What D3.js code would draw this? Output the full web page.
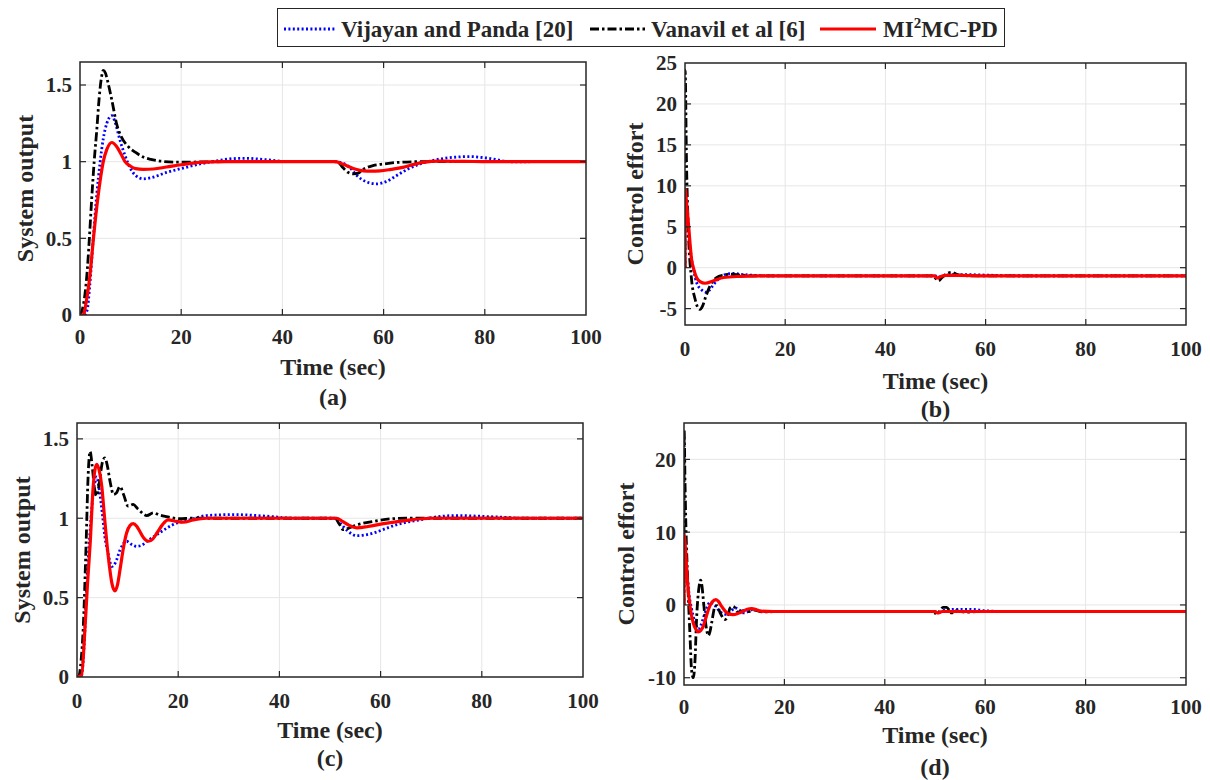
<!DOCTYPE html>
<html>
<head>
<meta charset="utf-8">
<style>
    body { margin: 0; background: #fff; }
    svg { display: block; }
    text { font-family: "Liberation Serif", "Times New Roman", serif; font-weight: bold; }
    .tick-label { font-size: 21px; fill: #262626; }
    .axis-title { font-size: 24px; fill: #262626; }
</style>
</head>
<body>
<svg width="1210" height="780"></svg>
<script src="https://d3js.org/d3.v7.min.js"></script>
<script>
// ---- data: [time, value] ----
const seriesNames = ["Vijayan and Panda [20]", "Vanavil et al [6]", "MI2MC-PD"];
const xTicks = [0, 20, 40, 60, 80, 100];
const yTicksOut = [0, 0.5, 1, 1.5];
const yTicksB = [-5, 0, 5, 10, 15, 20, 25];
const yTicksD = [-10, 0, 10, 20];

const aBlue = [[0,0],[0.8,0],[1.4,0.03],[1.9,0.18],[2.6,0.49],[3.3,0.78],[3.95,0.99],[4.6,1.15],[5.3,1.25],[6.3,1.3],[7,1.25],[7.9,1.14],[8.9,1.04],[9.9,0.96],[11,0.91],[12.5,0.888],[14,0.895],[17.1,0.93],[20,0.955],[23.7,0.985],[27,1.005],[30.3,1.02],[33,1.022],[36,1.015],[41.5,1],[50,1],[52,0.99],[53.5,0.955],[54.7,0.91],[56.5,0.87],[58.6,0.855],[60.5,0.87],[62.6,0.91],[65,0.955],[67.2,0.985],[70,1.01],[74.4,1.03],[77,1.033],[80.4,1.024],[85.6,0.998],[90,1],[100,1]];
const aBlack = [[0,0],[0.5,0.04],[1,0.14],[1.5,0.32],[1.85,0.5],[2.3,0.75],[2.8,1],[3.3,1.2],[3.8,1.42],[4.2,1.54],[4.6,1.595],[5,1.58],[5.5,1.52],[6.3,1.4],[7.25,1.245],[8.2,1.16],[9.5,1.1],[11,1.06],[12.5,1.03],[14,1.015],[16,1.003],[19,0.997],[24,0.998],[30,1],[50,1],[51,0.995],[52,0.96],[53,0.93],[54,0.92],[55,0.925],[56,0.95],[57.9,0.974],[60,0.985],[62.6,0.995],[67.8,1],[100,1]];
const aRed = [[0,0],[0.65,0],[1.2,0.08],[2,0.27],[2.6,0.48],[3.3,0.7],[4,0.88],[4.6,1],[5.3,1.08],[6.3,1.125],[7.2,1.1],[8.1,1.05],[8.9,1],[10,0.97],[11,0.955],[12.5,0.95],[14.5,0.952],[17.1,0.965],[20,0.98],[23.7,0.995],[28,1],[50.5,1],[51.5,0.99],[52.7,0.974],[54.5,0.95],[56,0.94],[57.5,0.938],[59.3,0.94],[61.5,0.95],[63.8,0.963],[66,0.982],[67.8,0.995],[71,1.003],[76,1.002],[80,1],[100,1]];

const bBlue = [[0,0],[0.03,9],[0.66,4.5],[1.3,1.07],[1.8,-0.5],[2.3,-1.8],[3.3,-2.7],[4.3,-3],[5.3,-2.4],[6.3,-1.6],[7.5,-1],[8.5,-0.75],[9.7,-0.7],[11,-0.8],[13,-0.9],[16,-1],[50,-1],[50.6,-1.15],[51.5,-1],[53,-0.85],[56,-0.85],[60,-0.9],[64,-0.97],[70,-1],[100,-1]];
const bBlack = [[0,0],[0.03,24.1],[0.3,12.9],[0.66,4.7],[1.3,-1.4],[2,-3.8],[2.5,-4.8],[3,-5.1],[3.5,-4.7],[4,-3.8],[5,-2.2],[6.3,-1.2],[7.6,-0.9],[9,-0.8],[11,-0.9],[14,-1],[49.5,-1],[50,-1.3],[50.6,-1.6],[51.3,-1.2],[52.2,-0.77],[53.2,-0.56],[54.2,-0.8],[56,-0.98],[60,-1],[100,-1]];
const bRed = [[0,0],[0.04,9.6],[0.3,8],[0.66,5.6],[1,3],[1.3,1.07],[1.8,-0.3],[2.3,-1.2],[3,-1.7],[4,-1.9],[5.7,-1.6],[7.7,-1.2],[11,-1.06],[15,-1],[49.8,-1],[50.3,-1.25],[51,-1.1],[52,-0.95],[55,-0.95],[60,-1],[100,-1]];

const cBlue = [[0,0],[0.9,0.01],[1.4,0.2],[2,0.63],[2.5,0.88],[2.9,1.055],[3.4,1.2],[3.9,1.26],[4.4,1.18],[5,1.03],[5.5,0.886],[6.2,0.77],[6.9,0.696],[7.6,0.72],[8.5,0.8],[9.8,0.855],[10.8,0.835],[11.8,0.823],[12.8,0.83],[13.8,0.855],[15,0.88],[16.4,0.91],[19,0.96],[22.3,0.99],[25.6,1.017],[30.9,1.023],[37.5,1.013],[43,1],[51,1],[52,0.97],[53.5,0.92],[55.3,0.89],[57,0.895],[58.6,0.907],[61,0.935],[63.2,0.96],[67.8,0.99],[71,1.008],[75,1.017],[81.6,1.01],[89.5,1],[100,1]];
const cBlack = [[0,0],[0.4,0.01],[0.8,0.1],[1.25,0.32],[1.8,0.84],[2.2,1.27],[2.6,1.42],[3,1.33],[3.5,1.18],[3.9,1.14],[4.4,1.22],[5,1.35],[5.5,1.38],[6,1.33],[6.6,1.22],[7.2,1.15],[7.8,1.16],[8.5,1.2],[9.2,1.15],[10.1,1.076],[11.1,1.087],[12,1.06],[13.8,1.017],[15.1,1.034],[16.3,1.02],[17.7,1.01],[20.4,0.997],[22.4,1],[50,1],[51,1],[51.8,0.965],[52.6,0.928],[53.5,0.935],[54.6,0.95],[56.5,0.968],[58.6,0.98],[61.9,0.996],[65,1],[100,1]];
const cRed = [[0,0],[0.9,0.01],[1.6,0.32],[2.1,0.6],[2.6,0.84],[3.2,1.2],[3.9,1.34],[4.4,1.3],[4.9,1.2],[5.4,1.02],[5.9,0.845],[6.4,0.7],[6.9,0.59],[7.5,0.542],[8,0.58],[8.5,0.675],[9.1,0.8],[9.8,0.907],[10.5,0.955],[11.1,0.966],[11.8,0.95],[12.4,0.918],[13.2,0.875],[14.1,0.855],[15,0.87],[15.8,0.907],[16.9,0.96],[18,0.99],[19.7,0.98],[21,0.975],[23,0.99],[25.6,1],[51.3,1],[52.5,0.98],[53.8,0.955],[55.3,0.94],[57.5,0.948],[60.6,0.966],[65.2,0.987],[69.8,1],[100,1]];

const dBlue = [[0,0],[0.03,8.5],[0.35,6.5],[0.66,4],[1,1.5],[1.5,-0.5],[2.2,-2.4],[2.85,-3.3],[3.3,-2.9],[3.85,-1.8],[4.5,-0.5],[5.2,0.36],[5.7,0.2],[6.2,-0.1],[7.2,-0.95],[8.5,-1.3],[9.3,-0.9],[10.2,-0.4],[11,-0.7],[11.8,-1.1],[12.8,-0.9],[13.8,-0.6],[15.8,-0.9],[18,-0.9],[50,-0.9],[50.5,-1.1],[51.5,-0.8],[53,-0.6],[57,-0.6],[60,-0.8],[64,-0.9],[100,-0.9]];
const dBlack = [[0,0],[0.03,24],[0.2,17],[0.35,11.7],[0.66,4.8],[0.86,1.2],[1.2,-4.3],[1.5,-8.9],[1.85,-10],[2.2,-7.5],[2.5,-2],[3,2.5],[3.3,3.4],[3.6,2.5],[3.85,0.7],[4.2,-1.8],[4.5,-3.4],[4.85,-4.2],[5.2,-3.6],[5.5,-2.5],[6.2,-0.2],[6.6,-0.1],[7.2,-1.1],[8.2,-2],[8.7,-1.5],[9.2,-0.4],[9.8,-0.2],[10.8,-1],[11.8,-0.8],[13,-0.9],[14,-0.7],[15.5,-0.95],[20,-0.9],[49.8,-0.9],[50.3,-1.3],[51,-0.8],[51.6,-0.33],[52.3,-0.33],[53.3,-1.1],[54,-0.8],[55,-0.9],[56.6,-1],[58.2,-0.9],[62,-0.9],[100,-0.9]];
const dRed = [[0,0],[0.04,9.6],[0.35,7.1],[0.66,3.5],[1.2,-0.2],[1.85,-2.5],[2.4,-3.4],[2.85,-3.7],[3.35,-3.5],[3.85,-2.9],[4.35,-1.8],[4.85,-0.65],[5.6,0.4],[6.37,0.73],[6.9,0.45],[7.5,-0.2],[8.2,-0.85],[8.8,-1.23],[9.8,-1.33],[10.8,-1.15],[11.8,-0.87],[12.6,-0.6],[13.5,-0.5],[14.4,-0.65],[15.2,-0.85],[17.8,-0.9],[50,-0.9],[50.5,-1.1],[51.5,-0.9],[100,-0.9]];

// ---- styles for the three methods ----
const styles = [
    {color: "#0000ff", width: 2.8, dash: "2,2.4"},
    {color: "#000000", width: 2.8, dash: "9,3,2.5,3"},
    {color: "#ff0000", width: 3.2, dash: null}
];

const panels = [
    {id: "a", left: 80, right: 586, top: 62, bottom: 315, yDomain: [0, 1.65], yTicks: yTicksOut,
     yLabel: "System output", yLabelX: 25, series: [aBlue, aBlack, aRed], tickDy: 22, titleDy: 52, letterDy: 82},
    {id: "b", left: 685, right: 1186, top: 63, bottom: 325, yDomain: [-7, 25], yTicks: yTicksB,
     yLabel: "Control effort", yLabelX: 635, series: [bBlue, bBlack, bRed], tickDy: 24, titleDy: 56, letterDy: 84},
    {id: "c", left: 77, right: 583, top: 423, bottom: 677, yDomain: [0, 1.6], yTicks: yTicksOut,
     yLabel: "System output", yLabelX: 22, series: [cBlue, cBlack, cRed], tickDy: 24, titleDy: 53, letterDy: 81},
    {id: "d", left: 684, right: 1186, top: 423, bottom: 685, yDomain: [-11, 25], yTicks: yTicksD,
     yLabel: "Control effort", yLabelX: 626, series: [dBlue, dBlack, dRed], tickDy: 22, titleDy: 50, letterDy: 82}
];

const svg = d3.select("svg");
const serif = "'Liberation Serif', 'Times New Roman', serif";
const axisColor = "#262626";
const gridColor = "#e6e6e6";
const tickLen = 6;

panels.forEach(p => {
    const x = d3.scaleLinear().domain([0, 100]).range([p.left, p.right]);
    const y = d3.scaleLinear().domain(p.yDomain).range([p.bottom, p.top]);
    const g = svg.append("g").attr("font-family", serif).attr("font-weight", "bold");

    g.append("clipPath").attr("id", "clip-" + p.id)
        .append("rect")
        .attr("x", p.left).attr("y", p.top)
        .attr("width", p.right - p.left).attr("height", p.bottom - p.top);

    // grid
    const innerX = xTicks.filter(t => t > 0 && t < 100);
    const innerY = p.yTicks.filter(t => y(t) > p.top + 1 && y(t) < p.bottom - 1);
    g.append("g").selectAll("line").data(innerX).join("line")
        .attr("x1", d => x(d)).attr("x2", d => x(d))
        .attr("y1", p.top).attr("y2", p.bottom)
        .attr("stroke", gridColor).attr("stroke-width", 1);
    g.append("g").selectAll("line").data(innerY).join("line")
        .attr("y1", d => y(d)).attr("y2", d => y(d))
        .attr("x1", p.left).attr("x2", p.right)
        .attr("stroke", gridColor).attr("stroke-width", 1);

    // curves
    const line = d3.line()
        .x(d => x(d[0]))
        .y(d => y(d[1]))
        .curve(d3.curveMonotoneX);
    g.append("g").attr("clip-path", `url(#clip-${p.id})`)
        .selectAll("path").data(p.series).join("path")
        .attr("d", d => line(d))
        .attr("fill", "none")
        .attr("stroke", (d, i) => styles[i].color)
        .attr("stroke-width", (d, i) => styles[i].width)
        .attr("stroke-dasharray", (d, i) => styles[i].dash)
        .attr("stroke-linejoin", "round");

    // inner ticks on all four sides
    const ticks = g.append("g").attr("stroke", axisColor).attr("stroke-width", 1.2);
    innerX.forEach(t => {
        ticks.append("line").attr("x1", x(t)).attr("x2", x(t)).attr("y1", p.bottom).attr("y2", p.bottom - tickLen);
        ticks.append("line").attr("x1", x(t)).attr("x2", x(t)).attr("y1", p.top).attr("y2", p.top + tickLen);
    });
    innerY.forEach(t => {
        ticks.append("line").attr("y1", y(t)).attr("y2", y(t)).attr("x1", p.left).attr("x2", p.left + tickLen);
        ticks.append("line").attr("y1", y(t)).attr("y2", y(t)).attr("x1", p.right).attr("x2", p.right - tickLen);
    });

    // box
    g.append("rect")
        .attr("x", p.left).attr("y", p.top)
        .attr("width", p.right - p.left).attr("height", p.bottom - p.top)
        .attr("fill", "none").attr("stroke", axisColor).attr("stroke-width", 1.5);

    // tick labels
    g.append("g").selectAll("text").data(xTicks).join("text")
        .attr("class", "tick-label")
        .attr("x", d => x(d)).attr("y", p.bottom + p.tickDy)
        .attr("dy", "0.35em")
        .attr("text-anchor", "middle")
        .text(d => d);
    g.append("g").selectAll("text").data(p.yTicks).join("text")
        .attr("class", "tick-label")
        .attr("x", p.left - 8).attr("y", d => y(d))
        .attr("dy", "0.35em")
        .attr("text-anchor", "end")
        .text(d => d);

    // axis titles
    const cx = (p.left + p.right) / 2;
    g.append("text").attr("class", "axis-title")
        .attr("x", cx).attr("y", p.bottom + p.titleDy).attr("dy", "0.35em")
        .attr("text-anchor", "middle").text("Time (sec)");
    g.append("text").attr("class", "axis-title")
        .attr("x", cx).attr("y", p.bottom + p.letterDy).attr("dy", "0.35em")
        .attr("text-anchor", "middle").text(`(${p.id})`);
    g.append("text").attr("class", "axis-title")
        .attr("transform", `translate(${p.yLabelX},${(p.top + p.bottom) / 2}) rotate(-90)`)
        .attr("dy", "0.35em")
        .attr("text-anchor", "middle").text(p.yLabel);
});

// ---- legend ----
const legend = svg.append("g").attr("font-family", serif).attr("font-weight", "bold");
legend.append("rect")
    .attr("x", 277.5).attr("y", 8.5).attr("width", 727).attr("height", 38)
    .attr("fill", "#fff").attr("stroke", "#262626").attr("stroke-width", 1);
const legendItems = [
    {x1: 284, x2: 336, tx: 341},
    {x1: 590, x2: 645, tx: 651},
    {x1: 820, x2: 876, tx: 883}
];
legendItems.forEach((it, i) => {
    legend.append("line")
        .attr("x1", it.x1).attr("x2", it.x2).attr("y1", 29).attr("y2", 29)
        .attr("stroke", styles[i].color)
        .attr("stroke-width", styles[i].width)
        .attr("stroke-dasharray", styles[i].dash);
    const t = legend.append("text")
        .attr("x", it.tx).attr("y", 37)
        .attr("font-size", 23).attr("fill", "#262626");
    if (i === 2) {
        t.append("tspan").text("MI");
        t.append("tspan").attr("font-size", 15).attr("dy", -9).text("2");
        t.append("tspan").attr("dy", 9).text("MC-PD");
    } else {
        t.text(seriesNames[i]);
    }
});
</script>
</body>
</html>
